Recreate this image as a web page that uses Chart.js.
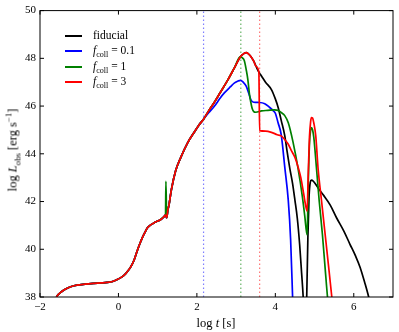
<!DOCTYPE html>
<html>
  <head>
    <meta charset="utf-8" />
    <title>log L_obs vs log t</title>
    <script src="https://cdn.jsdelivr.net/npm/chart.js"></script>
    <style>
      body {
        margin: 0;
        background: #fff;
      }

      .wrap {
        position: relative;
        width: 399px;
        height: 332px;
        font-family: "Liberation Serif", serif;
        color: #000;
      }

      canvas {
        position: absolute;
        left: 0;
        top: 0;
      }

      .legend {
        position: absolute;
        left: 65px;
        top: 28px;
        font-size: 11.5px;
      }

      .legend div {
        position: relative;
        height: 15.3px;
        line-height: 15.3px;
        padding-left: 28px;
        white-space: nowrap;
      }

      .legend .ln {
        position: absolute;
        left: 0;
        top: 7px;
        width: 17px;
        height: 2px;
      }

      .xtitle {
        position: absolute;
        left: 216px;
        top: 323px;
        transform: translate(-50%, -50%);
        font-size: 12.5px;
        white-space: nowrap;
      }

      .ytitle {
        position: absolute;
        left: 13px;
        top: 150px;
        transform: translate(-50%, -50%) rotate(-90deg);
        font-size: 12.5px;
        font-weight: normal;
        white-space: nowrap;
      }

      sub,
      sup {
        font-size: 70%;
        line-height: 0;
      }
    </style>
  </head>
  <body>
    <div class="wrap">
      <canvas id="lumChart" width="399" height="332"></canvas>
      <div class="legend">
        <div><span class="ln" style="background:#000000"></span>fiducial</div>
        <div><span class="ln" style="background:#0000ff"></span><i>f</i><sub>coll</sub> = 0.1</div>
        <div><span class="ln" style="background:#008000"></span><i>f</i><sub>coll</sub> = 1</div>
        <div><span class="ln" style="background:#ff0000"></span><i>f</i><sub>coll</sub> = 3</div>
      </div>
      <div class="xtitle">log <i>t</i> [s]</div>
      <div class="ytitle">log <i>L</i><sub>obs</sub> [erg s<sup>−1</sup>]</div>
    </div>

    <script>
      // early light curve, same for all four runs (log t, log L)
      var sharedT = [-1.62, -1.55, -1.49, -1.4, -1.32, -1.2, -1.06, -0.85, -0.63, -0.45, -0.29, -0.15, -0.03, 0.05, 0.14, 0.22, 0.31, 0.4, 0.48, 0.55, 0.61, 0.68, 0.74, 0.82, 0.91, 1.0, 1.08, 1.15, 1.2, 1.23, 1.26, 1.29, 1.35, 1.46, 1.59, 1.76, 1.93, 2.05, 2.17];
      var sharedL = [37.85, 38.07, 38.17, 38.28, 38.36, 38.44, 38.5, 38.54, 38.57, 38.59, 38.61, 38.65, 38.73, 38.8, 38.91, 39.05, 39.25, 39.55, 39.94, 40.25, 40.49, 40.72, 40.9, 41.02, 41.11, 41.18, 41.25, 41.35, 41.43, 41.32, 41.65, 41.87, 42.5, 43.3, 43.85, 44.45, 44.9, 45.2, 45.45];

      // fiducial
      var fidT = [2.3, 2.45, 2.6, 2.79, 2.95, 3.11, 3.2, 3.26, 3.32, 3.38, 3.45, 3.51, 3.58, 3.65, 3.75, 3.9, 4.0, 4.07, 4.15, 4.24, 4.3, 4.37, 4.44, 4.5, 4.56, 4.62, 4.67, 4.71, 4.74, 4.77, 4.8, 4.83, 4.86, 4.89, 4.92, 4.97, 5.1, 5.22, 5.4, 5.56, 5.75, 5.9, 6.05, 6.16, 6.28, 6.38, 6.42];
      var fidL = [45.8, 46.17, 46.58, 47.1, 47.58, 48.07, 48.2, 48.24, 48.18, 48.07, 47.88, 47.66, 47.42, 47.25, 47.0, 46.69, 46.3, 45.95, 45.4, 44.76, 44.1, 43.38, 42.75, 42.05, 41.3, 40.2, 39.0, 38.0, 36.8, 36.8, 38.0, 40.5, 42.2, 42.8, 42.9, 42.85, 42.55, 42.28, 41.85, 41.32, 40.75, 40.22, 39.7, 39.25, 38.6, 38.0, 37.7];

      // f_coll = 0.1
      var blueT = [2.3, 2.45, 2.6, 2.7, 2.85, 2.96, 3.05, 3.11, 3.18, 3.26, 3.32, 3.38, 3.45, 3.6, 3.73, 3.85, 3.95, 4.0, 4.07, 4.15, 4.24, 4.33, 4.39, 4.44, 4.47];
      var blueL = [45.72, 46.0, 46.35, 46.55, 46.8, 46.97, 47.05, 47.08, 47.0, 46.83, 46.55, 46.25, 46.16, 46.15, 46.1, 45.95, 45.8, 45.7, 45.3, 44.8, 43.45, 42.05, 40.4, 38.0, 36.5];

      // f_coll = 1 (plus the short spike near log t = 1.2)
      var greenSpikeT = [1.21];
      var greenSpikeL = [42.85];
      var greenT = [2.3, 2.45, 2.6, 2.79, 2.95, 3.11, 3.16, 3.21, 3.26, 3.3, 3.34, 3.37, 3.41, 3.45, 3.5, 3.65, 3.81, 3.98, 4.07, 4.15, 4.24, 4.33, 4.45, 4.58, 4.69, 4.75, 4.81, 4.84, 4.87, 4.9, 4.92, 4.95, 4.98, 5.05, 5.12, 5.2, 5.27, 5.33, 5.37];
      var greenL = [45.8, 46.17, 46.58, 47.1, 47.58, 48.07, 48.02, 47.9, 47.5, 47.1, 46.5, 46.2, 45.9, 45.77, 45.74, 45.8, 45.82, 45.84, 45.82, 45.73, 45.6, 45.3, 44.5, 43.38, 42.2, 41.4, 40.6, 42.8, 44.4, 45.0, 45.1, 45.0, 44.7, 43.38, 42.0, 40.63, 39.2, 38.0, 37.4];

      // f_coll = 3
      var redT = [2.3, 2.45, 2.6, 2.79, 2.95, 3.11, 3.2, 3.26, 3.32, 3.38, 3.45, 3.51, 3.58, 3.6, 3.75, 3.9, 4.05, 4.15, 4.25, 4.33, 4.42, 4.5, 4.58, 4.65, 4.72, 4.76, 4.81, 4.84, 4.87, 4.9, 4.92, 4.95, 4.98, 5.03, 5.09, 5.18, 5.26, 5.35, 5.44, 5.47];
      var redL = [45.8, 46.17, 46.58, 47.1, 47.58, 48.07, 48.2, 48.24, 48.18, 48.07, 47.88, 47.66, 47.42, 44.97, 44.95, 44.9, 44.8, 44.75, 44.58, 44.4, 44.1, 43.85, 43.45, 43.0, 42.35, 41.95, 41.6, 43.2, 44.7, 45.35, 45.52, 45.5, 45.3, 44.76, 43.38, 42.0, 40.77, 39.4, 38.0, 37.5];

      // dotted marker times: f_coll = 0.1, 1, 3
      var markT = [2.17, 3.12, 3.6];

      var xTicks = [-2, 0, 2, 4, 6];
      var yTicks = [38, 40, 42, 44, 46, 48, 50];

      function pts(ts, ls) {
        return ts.map(function (t, i) {
          return { x: t, y: ls[i] };
        });
      }

      var greenData = pts(sharedT, sharedL)
        .concat(pts(greenSpikeT, greenSpikeL))
        .sort(function (a, b) {
          return a.x - b.x;
        })
        .concat(pts(greenT, greenL));

      function curve(data, color, order) {
        return {
          data: data,
          showLine: true,
          borderColor: color,
          borderWidth: 1.7,
          pointRadius: 0,
          cubicInterpolationMode: "monotone",
          order: order,
        };
      }

      function marker(t, color, order) {
        return {
          data: [
            { x: t, y: 38 },
            { x: t, y: 50 },
          ],
          showLine: true,
          borderColor: color,
          borderWidth: 1.2,
          borderDash: [1.5, 2.5],
          pointRadius: 0,
          tension: 0,
          order: order,
        };
      }

      function fmt(v) {
        return v < 0 ? "\u2212" + Math.abs(v) : "" + v;
      }

      // spines all round with inward ticks, like the matplotlib classic look
      var frame = {
        id: "frame",
        afterDatasetsDraw: function (chart) {
          var c = chart.ctx;
          var a = chart.chartArea;
          var sx = chart.scales.x;
          var sy = chart.scales.y;
          c.save();
          c.strokeStyle = "#000";
          c.lineWidth = 1;
          c.beginPath();
          xTicks.forEach(function (v) {
            var px = sx.getPixelForValue(v);
            c.moveTo(px, a.bottom);
            c.lineTo(px, a.bottom - 4);
            c.moveTo(px, a.top);
            c.lineTo(px, a.top + 4);
          });
          yTicks.forEach(function (v) {
            var py = sy.getPixelForValue(v);
            c.moveTo(a.left, py);
            c.lineTo(a.left + 4, py);
            c.moveTo(a.right, py);
            c.lineTo(a.right - 4, py);
          });
          c.stroke();
          c.strokeRect(a.left, a.top, a.right - a.left, a.bottom - a.top);
          c.restore();
        },
      };

      var tickFont = { family: "Liberation Serif", size: 11 };

      new Chart(document.getElementById("lumChart"), {
        type: "scatter",
        data: {
          datasets: [
            curve(pts(sharedT, sharedL).concat(pts(redT, redL)), "#ff0000", 0),
            curve(greenData, "#008000", 1),
            curve(pts(sharedT, sharedL).concat(pts(blueT, blueL)), "#0000ff", 2),
            curve(pts(sharedT, sharedL).concat(pts(fidT, fidL)), "#000000", 3),
            marker(markT[0], "rgba(0,0,255,0.5)", 4),
            marker(markT[1], "rgba(0,128,0,0.6)", 5),
            marker(markT[2], "rgba(255,0,0,0.55)", 6),
          ],
        },
        options: {
          responsive: false,
          animation: false,
          layout: { padding: { top: 6, right: 6, left: 0, bottom: 0 } },
          plugins: {
            legend: { display: false },
            tooltip: { enabled: false },
          },
          scales: {
            x: {
              type: "linear",
              min: -2,
              max: 7,
              afterFit: function (s) {
                s.height = 35;
              },
              grid: { display: false, drawTicks: false },
              border: { display: false },
              ticks: {
                stepSize: 2,
                includeBounds: false,
                padding: 4,
                maxRotation: 0,
                color: "#000",
                font: tickFont,
                callback: fmt,
              },
            },
            y: {
              type: "linear",
              min: 38,
              max: 50,
              afterFit: function (s) {
                s.width = 40;
              },
              grid: { display: false, drawTicks: false },
              border: { display: false },
              ticks: {
                stepSize: 2,
                padding: 4,
                color: "#000",
                font: tickFont,
                callback: fmt,
              },
            },
          },
        },
        plugins: [frame],
      });
    </script>
  </body>
</html>
